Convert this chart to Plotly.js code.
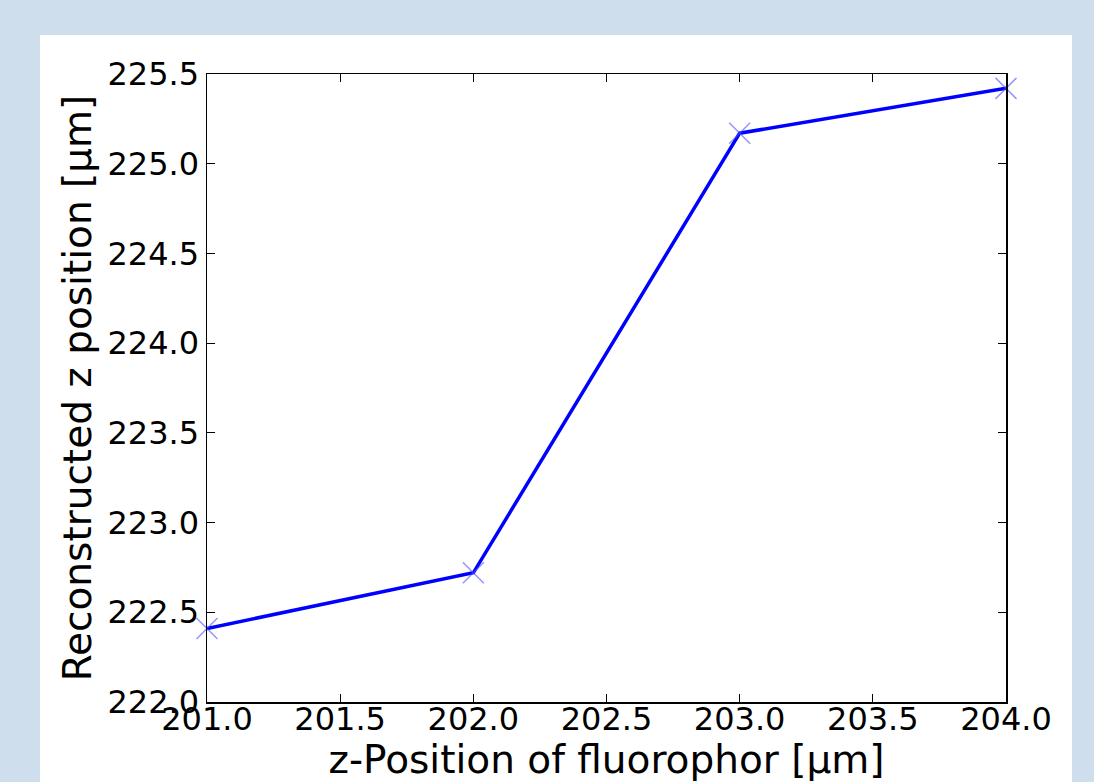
<!DOCTYPE html>
<html>
<head>
<meta charset="utf-8">
<script src="https://cdn.plot.ly/plotly-3.0.1.min.js"></script>
<style>
  html, body { margin: 0; padding: 0; background: #cfdeec; width: 1094px; height: 782px; overflow: hidden; }
  #chart { position: absolute; left: 40px; top: 35px; width: 1032px; height: 747px; background: #ffffff; }
</style>
</head>
<body>
<div id="chart"></div>
<script>
const fluorophorZ = [201, 202, 203, 204];
const reconstructedZ = [222.41, 222.72, 225.17, 225.42];
const xTickVals = [201.0, 201.5, 202.0, 202.5, 203.0, 203.5, 204.0];
const yTickVals = [222.0, 222.5, 223.0, 223.5, 224.0, 224.5, 225.0, 225.5];

const font = "DejaVu Sans, Verdana, sans-serif";

const traces = [
  {
    x: fluorophorZ, y: reconstructedZ,
    type: 'scatter', mode: 'lines',
    line: { color: '#0000ff', width: 3.5 },
    cliponaxis: false,
    hoverinfo: 'skip'
  },
  {
    x: fluorophorZ, y: reconstructedZ,
    type: 'scatter', mode: 'markers',
    marker: { symbol: 'x-thin-open', size: 21, color: 'rgba(80,80,255,0.6)', line: { color: 'rgba(80,80,255,0.6)', width: 1.5 } },
    cliponaxis: false,
    hoverinfo: 'skip'
  }
];

const layout = {
  width: 1032, height: 747,
  paper_bgcolor: '#ffffff', plot_bgcolor: '#ffffff',
  showlegend: false,
  margin: { l: 167, r: 66, t: 39, b: 80 },
  font: { family: font, color: '#000000', size: 32 },
  xaxis: {
    range: [201, 204],
    tickvals: xTickVals,
    ticktext: xTickVals.map(v => v.toFixed(1)),
    ticks: 'inside', ticklen: 8, tickwidth: 1, tickcolor: '#000',
    ticklabelstandoff: -12,
    showline: true, linecolor: '#000', linewidth: 1.5, mirror: 'allticks',
    showgrid: false, zeroline: false,
    tickfont: { family: font, size: 32 },
    title: { text: 'z-Position of fluorophor [µm]', font: { family: font, size: 39 }, standoff: 21 }
  },
  yaxis: {
    range: [222, 225.5],
    tickvals: yTickVals,
    ticktext: yTickVals.map(v => v.toFixed(1)),
    ticks: 'inside', ticklen: 8, tickwidth: 1, tickcolor: '#000',
    showline: true, linecolor: '#000', linewidth: 1.5, mirror: 'allticks',
    showgrid: false, zeroline: false,
    tickfont: { family: font, size: 32 },
    title: { text: 'Reconstructed z position [µm]', font: { family: font, size: 39 }, standoff: 4 }
  }
};

Plotly.newPlot('chart', traces, layout, { displayModeBar: false, staticPlot: true });
</script>
</body>
</html>
